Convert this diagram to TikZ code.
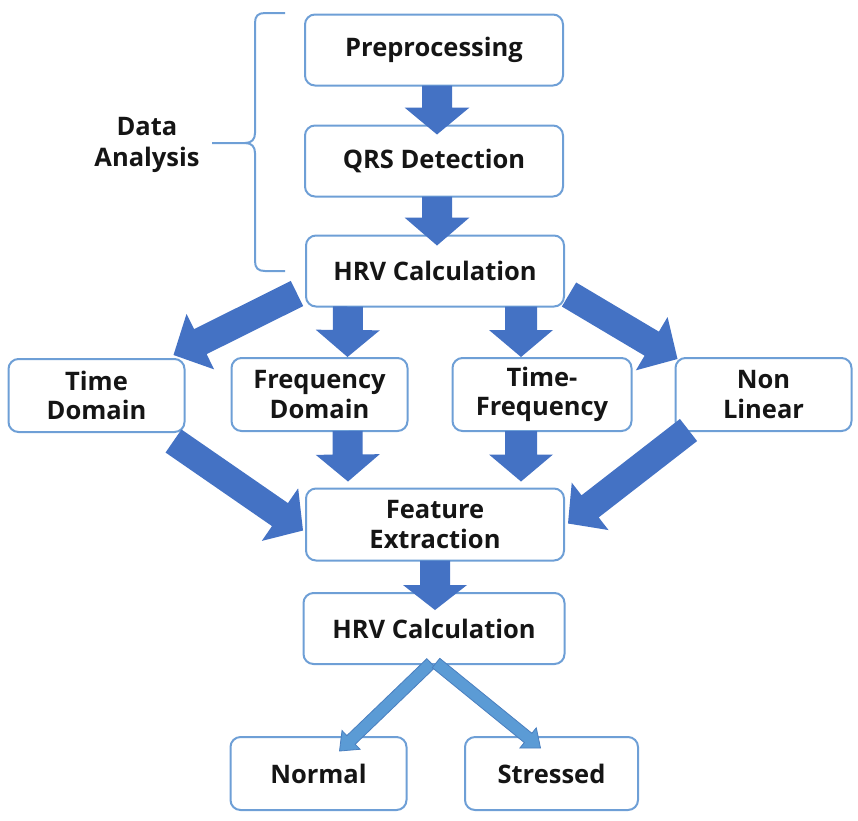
\documentclass[tikz,border=0pt]{standalone}
\usepackage{fontspec}
\setmainfont{Open Sans}
\usetikzlibrary{calc}

\definecolor{boxblue}{HTML}{6E9FD6}
\definecolor{arrowblue}{HTML}{4472C4}
\definecolor{lightarrow}{HTML}{5B9BD5}
\definecolor{lightedge}{HTML}{4A7FBF}
\definecolor{ink}{HTML}{151515}

% Block arrow: #1 start, #2 tip, #3 half shaft width, #4 half head width,
% #5 head length, #6 style
\newcommand\blockarrow[6]{%
  \path (#1) coordinate (ba-s) (#2) coordinate (ba-t);
  \coordinate (ba-h) at ($(ba-t)!#5!(ba-s)$);
  \path[#6] ($(ba-s)!#3!90:(ba-t)$) -- ($(ba-h)!#3!90:(ba-t)$)
    -- ($(ba-h)!#4!90:(ba-t)$) -- (ba-t) -- ($(ba-h)!#4!-90:(ba-t)$)
    -- ($(ba-h)!#3!-90:(ba-t)$) -- ($(ba-s)!#3!-90:(ba-t)$) -- cycle;
}

\begin{document}
\begin{tikzpicture}[x=1pt,y=-1pt,
  box/.style={draw=boxblue, line width=2pt, rounded corners=10pt, fill=white,
    inner sep=0pt, align=center, text=ink,
    font=\fontsize{25.5}{29.5}\selectfont\bfseries},
  wide/.style={box, minimum width=258pt, minimum height=71pt},
  small/.style={box, minimum width=176pt, minimum height=73pt},
  bigarrow/.style={fill=arrowblue},
  thinarrow/.style={fill=lightarrow, draw=lightedge, line width=0.8pt, line join=miter},
  bracket/.style={draw=boxblue, line width=2pt}]

\useasboundingbox (0,0) rectangle (858,820);

% boxes of the main column
\node[wide] (pre)  at (434,50)  {Preprocessing};
\node[wide] (qrs)  at (434,161) {QRS Detection};
\node[wide] (hrv)  at (435,271) {HRV Calculation};

% the four analysis domains
\node[small] (time) at (96.5,395.5) {Time\\Domain};
\node[small] (freq) at (319.5,394.5) {Frequency\\Domain};
\node[small, minimum width=179pt] (tf) at (542,394.5) {Time-\\Frequency};
\node[small] (nl)   at (763.5,394.5) {Non\\Linear};

\node[wide, minimum height=72pt] (feat) at (435,524.5) {Feature\\Extraction};
\node[wide, minimum width=261pt] (hrv2) at (434,628.5) {HRV Calculation};

\node[small] (normal)   at (318.5,773.5) {Normal};
\node[small, minimum width=173pt] (stressed) at (551.5,773.5) {Stressed};

% bracket and its label
\node[align=center, text=ink, font=\fontsize{25.5}{31}\selectfont\bfseries]
  (da) at (147,145) {Data\\Analysis};
\draw[bracket] (285,13) -- (265,13) .. controls (258,13) and (255,16) .. (255,23)
  -- (255,133) .. controls (255,139) and (252,143) .. (245,143) -- (212,143);
\draw[bracket] (245,143) .. controls (252,143) and (255,147) .. (255,153)
  -- (255,261) .. controls (255,268) and (258,271) .. (265,271) -- (285,271);

% vertical block arrows
\blockarrow{$(pre.south)+(3,-1)$}{$(qrs.north)+(3,10)$}{15pt}{32.5pt}{27pt}{bigarrow}
\blockarrow{$(qrs.south)+(3,-1)$}{$(hrv.north)+(2,11)$}{15pt}{32.5pt}{28pt}{bigarrow}
\blockarrow{$(hrv.south)+(-87,-1)$}{$(freq.north)+(28,0)$}{15pt}{32pt}{27pt}{bigarrow}
\blockarrow{$(hrv.south)+(86,-1)$}{$(tf.north)+(-21,0)$}{16pt}{32pt}{27pt}{bigarrow}
\blockarrow{$(freq.south)+(28,-1)$}{$(feat.north)+(-87,-6)$}{15pt}{32pt}{27pt}{bigarrow}
\blockarrow{$(tf.south)+(-21,-1)$}{$(feat.north)+(86,-6)$}{16pt}{32pt}{27pt}{bigarrow}
\blockarrow{$(feat.south)+(0,-1)$}{$(hrv2.north)+(1,18)$}{15pt}{32pt}{25pt}{bigarrow}

% diagonal block arrows
\blockarrow{$(hrv.south west)+(-8,-14)$}{$(time.north east)+(-12,-3)$}{14pt}{31pt}{30pt}{bigarrow}
\blockarrow{$(hrv.south east)+(4,-13)$}{$(nl.north west)+(3,2)$}{14pt}{31pt}{30pt}{bigarrow}
\blockarrow{$(time.south east)+(-12,8)$}{$(feat.west)+(-2,6)$}{14pt}{32pt}{28pt}{bigarrow}
\blockarrow{$(nl.south west)+(14,-2)$}{$(feat.east)+(3,-1)$}{14pt}{30pt}{28pt}{bigarrow}

% final decision arrows
\blockarrow{$(hrv2.south)+(-3,-2)$}{$(normal.north)+(21,15)$}{6pt}{13pt}{16pt}{thinarrow}
\blockarrow{$(hrv2.south)+(2,-2)$}{$(stressed.north)+(-11,12)$}{6pt}{13pt}{16pt}{thinarrow}

\end{tikzpicture}
\end{document}
